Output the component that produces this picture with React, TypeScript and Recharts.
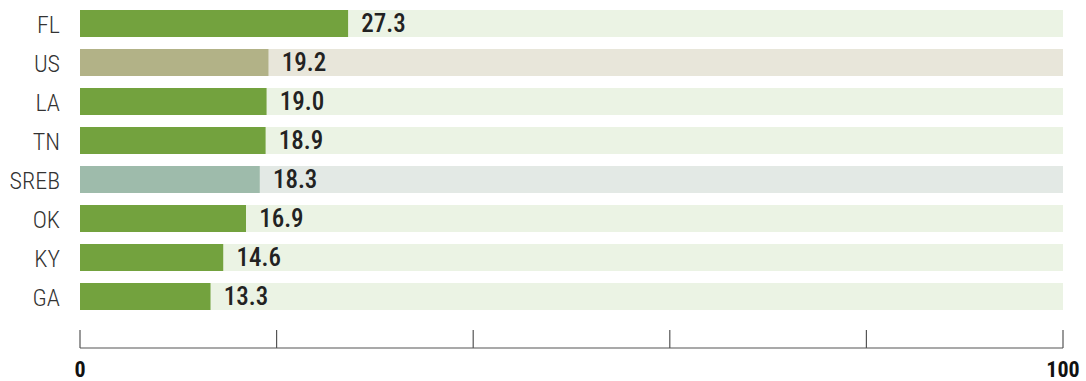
import { BarChart, Bar, XAxis, YAxis, Cell, LabelList } from 'recharts'

// Share by state, with the US and SREB averages in their own colours
const states = ['FL', 'US', 'LA', 'TN', 'SREB', 'OK', 'KY', 'GA']
const shares = [27.3, 19.2, 19.0, 18.9, 18.3, 16.9, 14.6, 13.3]
const groups = ['state', 'us', 'state', 'state', 'sreb', 'state', 'state', 'state']
const axisTicks = [0, 20, 40, 60, 80, 100]
const axisLabels = ['0', '', '', '', '', '100']
const scaleMax = 100

const barColors: Record<string, string> = {
    state: '#73a23e',
    us: '#b2b287',
    sreb: '#9ebbab',
}
const trackColors: Record<string, string> = {
    state: '#ebf3e4',
    us: '#e8e6da',
    sreb: '#e3e9e5',
}

const rows = states.map((name, i) => ({
    name,
    value: shares[i],
    rest: +(scaleMax - shares[i]).toFixed(1),
    group: groups[i],
}))

const font = '"Roboto Condensed", "DejaVu Sans Condensed", sans-serif'

function CategoryTick(props: any) {
    const { x, y, payload } = props
    return (
        <text x={x} y={y} dx={6} dy={9} textAnchor="end" fontFamily={font} fontWeight={300} fontSize={24} fill="#333">
            {payload.value}
        </text>
    )
}

// ticks stand up from the baseline, label sits underneath
function ScaleTick(props: any) {
    const { x, y, index } = props
    return (
        <g>
            <line x1={x} x2={x} y1={y} y2={y - 18} stroke="#555" strokeWidth={1.2} />
            <text x={x} y={y + 29} textAnchor="middle" fontFamily={font} fontWeight="bold" fontSize={22} fill="#111">
                {axisLabels[index] ?? ''}
            </text>
        </g>
    )
}

export default function App() {
    return (
        <div style={{ position: 'absolute', left: 0, top: 0, background: '#fff' }}>
            <BarChart
                width={1086}
                height={381}
                data={rows}
                layout="vertical"
                margin={{ top: 4, right: 23, bottom: 0, left: 0 }}
                barSize={27}
            >
                <XAxis
                    type="number"
                    domain={[0, scaleMax]}
                    ticks={axisTicks}
                    interval={0}
                    height={33}
                    axisLine={{ stroke: '#555', strokeWidth: 1.2 }}
                    tickLine={false}
                    tickSize={0}
                    tickMargin={0}
                    tick={<ScaleTick />}
                />
                <YAxis
                    type="category"
                    dataKey="name"
                    width={80}
                    axisLine={false}
                    tickLine={false}
                    tick={<CategoryTick />}
                    tickMargin={20}
                    padding={{ top: 0, bottom: 32 }}
                />
                <Bar dataKey="value" stackId="s" isAnimationActive={false}>
                    {rows.map((r) => (
                        <Cell key={r.name} fill={barColors[r.group]} />
                    ))}
                </Bar>
                <Bar dataKey="rest" stackId="s" isAnimationActive={false}>
                    {rows.map((r) => (
                        <Cell key={r.name} fill={trackColors[r.group]} />
                    ))}
                    <LabelList
                        dataKey="value"
                        position="insideLeft"
                        offset={13}
                        formatter={(v: any) => Number(v).toFixed(1)}
                        fontFamily={font}
                        fontWeight={500}
                        fontSize={25}
                        fill="#222"
                    />
                </Bar>
            </BarChart>
        </div>
    )
}
